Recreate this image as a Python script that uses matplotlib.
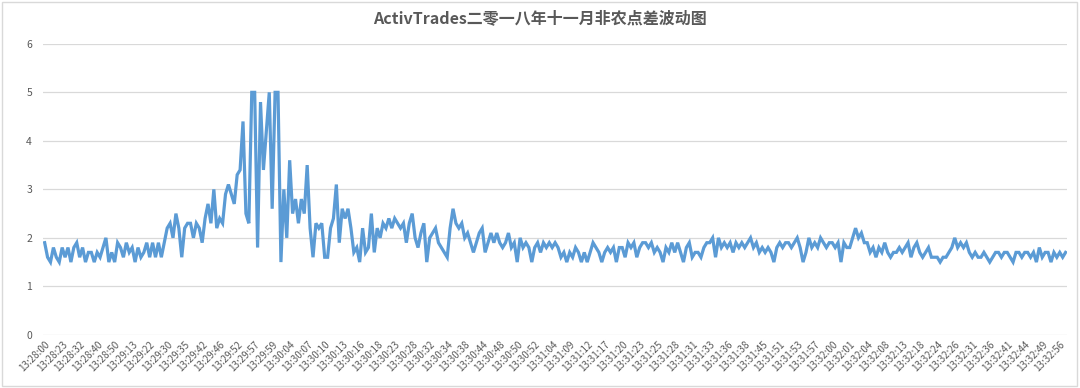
import numpy as np
import matplotlib
matplotlib.use("Agg")
import matplotlib.pyplot as plt
from matplotlib.patches import Rectangle

plt.rcParams['font.family'] = ['Noto Sans CJK SC', 'DejaVu Sans']

title = "ActivTrades二零一八年十一月非农点差波动图"

# tick labels shown on the category axis, one every 6 samples
tickLabels = [
    "13:28:00", "13:28:23", "13:28:32", "13:28:40", "13:28:50", "13:29:13",
    "13:29:22", "13:29:30", "13:29:35", "13:29:42", "13:29:46", "13:29:52",
    "13:29:57", "13:29:59", "13:30:04", "13:30:07", "13:30:10", "13:30:13",
    "13:30:16", "13:30:18", "13:30:23", "13:30:28", "13:30:32", "13:30:34",
    "13:30:38", "13:30:44", "13:30:48", "13:30:50", "13:30:52", "13:31:04",
    "13:31:09", "13:31:12", "13:31:17", "13:31:20", "13:31:23", "13:31:25",
    "13:31:28", "13:31:31", "13:31:33", "13:31:36", "13:31:38", "13:31:45",
    "13:31:51", "13:31:53", "13:31:57", "13:32:00", "13:32:01", "13:32:04",
    "13:32:08", "13:32:13", "13:32:18", "13:32:24", "13:32:26", "13:32:31",
    "13:32:36", "13:32:41", "13:32:44", "13:32:49", "13:32:56",
]
labelStep = 6

# spread values (points)
spread = [
    1.9, 1.6, 1.5, 1.8, 1.6, 1.5,  1.8, 1.6, 1.8, 1.5, 1.8, 1.9,
    1.6, 1.8, 1.5, 1.7, 1.7, 1.5,  1.7, 1.6, 1.8, 2.0, 1.5, 1.7,
    1.5, 1.9, 1.8, 1.6, 1.9, 1.7,  1.8, 1.5, 1.8, 1.6, 1.7, 1.9,
    1.6, 1.9, 1.6, 1.9, 1.6, 1.9,  2.2, 2.3, 2.0, 2.5, 2.2, 1.6,
    2.2, 2.3, 2.3, 2.0, 2.3, 2.2,  1.9, 2.4, 2.7, 2.3, 3.0, 2.2,
    2.4, 2.3, 2.9, 3.1, 2.9, 2.7,  3.3, 3.4, 4.4, 2.5, 2.3, 5.0,
    5.0, 1.8, 4.8, 3.4, 4.2, 5.0,  2.6, 5.0, 5.0, 1.5, 3.0, 2.0,
    3.6, 2.5, 2.8, 2.3, 2.8, 2.5,  3.5, 2.2, 1.6, 2.3, 2.2, 2.3,
    1.6, 1.6, 2.2, 2.4, 3.1, 1.9,  2.6, 2.4, 2.6, 2.2, 1.7, 1.8,
    1.5, 2.2, 1.7, 1.8, 2.5, 1.7,  2.2, 2.0, 2.3, 2.2, 2.4, 2.2,
    2.4, 2.3, 2.2, 2.3, 1.9, 2.3,  2.5, 2.0, 1.8, 2.1, 2.3, 1.5,
    2.0, 2.1, 2.2, 1.9, 1.8, 1.7,  1.6, 2.2, 2.6, 2.3, 2.2, 2.3,
    2.0, 2.1, 1.9, 1.7, 1.9, 2.1,  2.2, 1.7, 1.9, 2.1, 1.9, 2.1,
    1.9, 1.8, 1.9, 2.1, 1.8, 1.9,  1.5, 2.0, 1.8, 1.9, 1.8, 1.5,
    1.8, 1.9, 1.7, 1.9, 1.8, 1.9,  1.8, 1.9, 1.8, 1.6, 1.7, 1.5,
    1.7, 1.6, 1.8, 1.7, 1.5, 1.7,  1.5, 1.7, 1.9, 1.8, 1.7, 1.5,
    1.7, 1.8, 1.7, 1.8, 1.5, 1.8,  1.8, 1.6, 1.9, 1.8, 1.9, 1.6,
    1.8, 1.9, 1.9, 1.8, 1.9, 1.7,  1.8, 1.7, 1.5, 1.8, 1.7, 1.9,
    1.7, 1.9, 1.7, 1.5, 1.8, 1.9,  1.6, 1.7, 1.7, 1.6, 1.8, 1.9,
    1.9, 2.0, 1.6, 2.0, 1.8, 1.9,  1.8, 1.9, 1.7, 1.9, 1.8, 1.9,
    1.8, 1.9, 2.0, 1.8, 1.9, 1.7,  1.8, 1.7, 1.8, 1.7, 1.5, 1.8,
    1.9, 1.8, 1.9, 1.9, 1.8, 1.9,  2.0, 1.8, 1.5, 1.7, 2.0, 1.8,
    1.9, 1.8, 2.0, 1.9, 1.8, 1.9,  1.9, 1.8, 1.9, 1.5, 1.9, 1.8,
    1.8, 2.0, 2.2, 2.0, 2.1, 1.9,  1.9, 1.7, 1.8, 1.6, 1.8, 1.7,
    1.9, 1.7, 1.6, 1.7, 1.7, 1.8,  1.7, 1.8, 1.9, 1.6, 1.8, 1.9,
    1.7, 1.6, 1.7, 1.8, 1.6, 1.6,  1.6, 1.5, 1.6, 1.6, 1.7, 1.8,
    2.0, 1.8, 1.9, 1.8, 1.9, 1.7,  1.6, 1.7, 1.6, 1.6, 1.7, 1.6,
    1.5, 1.6, 1.7, 1.7, 1.6, 1.7,  1.7, 1.6, 1.5, 1.7, 1.7, 1.6,
    1.7, 1.7, 1.6, 1.7, 1.5, 1.8,  1.6, 1.7, 1.7, 1.5, 1.7, 1.6,
    1.7, 1.6, 1.7,
]

lineColor = "#5B9BD5"
gridColor = "#D9D9D9"
textColor = "#595959"

fig = plt.figure(figsize=(10.8, 3.88), dpi=100)
ax = fig.add_axes([0.040, 0.137, 0.948, 0.750])

x = np.arange(len(spread))
ax.plot(x, spread, color=lineColor, linewidth=2.3, solid_joinstyle='miter')

ax.set_ylim(0, 6)
ax.set_yticks(range(0, 7))
ax.set_xlim(-0.5, len(spread) - 0.5)
ax.set_xticks(x[::labelStep][:len(tickLabels)])
ax.set_xticklabels(tickLabels, rotation=45, ha='right', rotation_mode='anchor')

ax.grid(axis='y', color=gridColor, linewidth=0.9)
ax.set_axisbelow(True)
for s in ax.spines.values():
    s.set_visible(False)
ax.tick_params(axis='both', length=0, colors=textColor)
ax.tick_params(axis='y', labelsize=7.5, pad=8)
ax.tick_params(axis='x', labelsize=7, pad=3)

fig.text(0.5, 0.953, title, ha='center', va='center', fontsize=11.5,
         fontweight='bold', color=textColor)

# thin chart frame
fig.patches.append(Rectangle((0.002, 0.004), 0.995, 0.992, transform=fig.transFigure,
                             fill=False, edgecolor=gridColor, linewidth=1))

fig.savefig("out.png", dpi=100)
